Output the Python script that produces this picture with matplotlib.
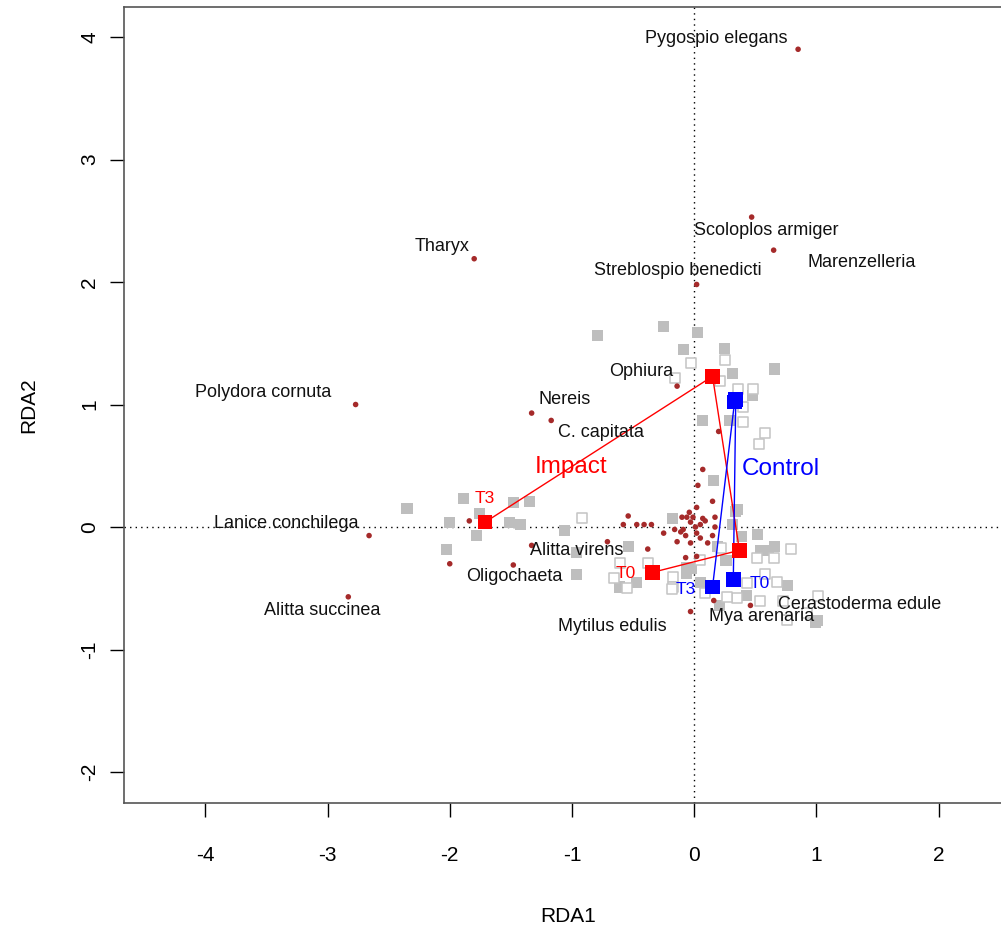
import numpy as np
import matplotlib
matplotlib.use("Agg")
import matplotlib.pyplot as plt

plt.rcParams['font.family'] = ['Liberation Sans', 'DejaVu Sans']
plt.rcParams['axes.unicode_minus'] = False

# ------------------------------------------------------------
# data (RDA site / species scores)
# ------------------------------------------------------------
# sites shown as filled grey squares
filled_x = [-0.25, -0.79, 0.03, -0.09, 0.25, 0.66, 0.31, 0.15, 0.48, 0.07, 0.29, 0.16, 0.35,
            -1.89, -2.35, -1.48, -1.35, -2.00, -1.76, -1.78, -1.51, -1.42, -2.03, -1.06, -0.96,
            -0.96, -0.61, -0.54, -0.47, -0.18, 0.39, 0.34, 0.31, 0.52, 0.54, 0.61, 0.66, 0.26,
            0.19, -0.06, -0.02, 0.21, 0.43, 0.76, 1.01, 0.99, -0.06, 0.05]
filled_y = [1.64, 1.56, 1.59, 1.45, 1.46, 1.29, 1.25, 1.24, 1.07, 0.87, 0.87, 0.38, 0.14,
            0.23, 0.15, 0.20, 0.21, 0.04, 0.11, -0.07, 0.04, 0.02, -0.18, -0.03, -0.21,
            -0.39, -0.49, -0.16, -0.45, 0.07, -0.08, 0.13, 0.02, -0.06, -0.19, -0.19, -0.16, -0.27,
            -0.16, -0.33, -0.34, -0.64, -0.56, -0.48, -0.76, -0.78, -0.38, -0.45]

# sites shown as open grey squares
open_x = [-0.03, 0.25, 0.21, -0.16, 0.36, 0.48, 0.40, 0.40, 0.58, 0.53, -0.92, 0.79, 0.65,
          0.51, 0.58, 0.68, -0.38, -0.61, -0.55, -0.17, -0.17, -0.18, 0.09, 0.35, 0.27, 0.54,
          0.73, 1.01, 0.76, 0.92, 0.43, 0.05, 0.22, -0.66]
open_y = [1.34, 1.36, 1.19, 1.22, 1.13, 1.13, 0.98, 0.86, 0.77, 0.68, 0.07, -0.18, -0.25,
          -0.25, -0.38, -0.45, -0.29, -0.29, -0.50, -0.41, -0.49, -0.51, -0.54, -0.58, -0.57, -0.60,
          -0.60, -0.56, -0.76, -0.70, -0.46, -0.27, -0.17, -0.42]

# unlabelled species scores
sp_x = [0.03, 0.15, 0.02, -0.04, -0.10, -0.54, -0.58, -0.47, -0.41, -0.35, -0.25, -0.16, -0.11,
        0.01, 0.02, 0.05, 0.09, 0.17, 0.11, 0.15, 0.17, -0.14, -0.03, -0.71, -0.38, -0.07, 0.02,
        -1.84, -2.00, 0.07, 0.20, -0.06, -0.01, 0.07, -0.07, -0.03, 0.05, -0.09]
sp_y = [0.34, 0.21, 0.16, 0.12, 0.08, 0.09, 0.02, 0.02, 0.02, 0.02, -0.05, -0.02, -0.04,
        0.00, -0.05, -0.09, 0.05, 0.08, -0.13, -0.07, 0.00, -0.12, -0.13, -0.12, -0.18, -0.25, -0.24,
        0.05, -0.30, 0.47, 0.78, 0.08, 0.08, 0.07, -0.07, 0.04, 0.02, -0.02]

# labelled species
names = ["Pygospio elegans", "Scoloplos armiger", "Marenzelleria", "Streblospio benedicti",
         "Tharyx", "Polydora cornuta", "Ophiura", "Nereis", "C. capitata", "Lanice conchilega",
         "Alitta succinea", "Alitta virens", "Oligochaeta", "Mytilus edulis", "Mya arenaria",
         "Cerastoderma edule"]
name_x = [0.85, 0.47, 0.65, 0.02, -1.80, -2.77, -0.14, -1.33, -1.17, -2.66, -2.83, -1.33,
          -1.48, -0.03, 0.16, 0.46]
name_y = [3.90, 2.53, 2.26, 1.98, 2.19, 1.00, 1.15, 0.93, 0.87, -0.07, -0.57, -0.15,
          -0.31, -0.69, -0.60, -0.64]

# group centroids over time (T0 ... T3)
impact_x = [-0.34, 0.37, 0.15, -1.71]
impact_y = [-0.37, -0.19, 1.23, 0.04]
control_x = [0.32, 0.34, 0.33, 0.15]
control_y = [-0.43, 1.04, 1.02, -0.49]

# label offsets (data units) for the species names
lab_dx = [-0.67, 0.12, 0.72, -0.15, -0.26, -0.76, -0.29, 0.27, 0.41, -0.68, -0.21, 0.37,
          0.01, -0.64, 0.39, 0.89]
lab_dy = [0.09, -0.11, -0.10, 0.11, 0.10, 0.10, 0.12, 0.11, -0.10, 0.10, -0.11, -0.04,
          -0.09, -0.12, -0.13, 0.01]

# ------------------------------------------------------------
fig = plt.figure(figsize=(10.01, 9.31), dpi=100)
ax = fig.add_axes([124 / 1001, 128 / 931, (1012 - 124) / 1001, (803 - 7) / 931])

grey = '#BEBEBE'
brown = '#A52A2A'

ax.axhline(0, color='black', linestyle=(0, (1, 3)), linewidth=1, zorder=1)
ax.axvline(0, color='black', linestyle=(0, (1, 3)), linewidth=1, zorder=1)

ax.scatter(filled_x, filled_y, marker='s', s=64, color=grey, edgecolors='none', zorder=2)
ax.scatter(open_x, open_y, marker='s', s=60, facecolors='white', edgecolors='#C4C4C4',
           linewidths=1.1, zorder=2)

ax.scatter(sp_x, sp_y, marker='o', s=16, color=brown, edgecolors='none', zorder=3)
ax.scatter(name_x, name_y, marker='o', s=16, color=brown, edgecolors='none', zorder=3)

for n, x, y, dx, dy in zip(names, name_x, name_y, lab_dx, lab_dy):
    ax.text(x + dx, y + dy, n, fontsize=13, ha='center', va='center', color='#111111', zorder=6)

ax.plot(impact_x, impact_y, color='red', linewidth=1, zorder=4)
ax.plot(control_x, control_y, color='blue', linewidth=1, zorder=4)
ax.scatter(impact_x, impact_y, marker='s', s=110, color='red', edgecolors='none', zorder=5)
ax.scatter(control_x, control_y, marker='s', s=110, color='blue', edgecolors='none', zorder=5)

ax.text(impact_x[3], impact_y[3] + 0.19, 'T3', color='red', fontsize=12.5, ha='center', va='center', zorder=6)
ax.text(impact_x[0] - 0.22, impact_y[0] - 0.01, 'T0', color='red', fontsize=12.5, ha='center', va='center', zorder=6)
ax.text(control_x[3] - 0.22, control_y[3] - 0.02, 'T3', color='blue', fontsize=12.5, ha='center', va='center', zorder=6)
ax.text(control_x[0] + 0.22, control_y[0] - 0.03, 'T0', color='blue', fontsize=12.5, ha='center', va='center', zorder=6)
ax.text(-1.01, 0.49, 'Impact', color='red', fontsize=17.5, ha='center', va='center', zorder=6)
ax.text(0.71, 0.47, 'Control', color='blue', fontsize=17.5, ha='center', va='center', zorder=6)

ax.set_xlim(-4.665, 2.6)
ax.set_ylim(-2.253, 4.245)
ax.set_xticks([-4, -3, -2, -1, 0, 1, 2])
ax.set_yticks([-2, -1, 0, 1, 2, 3, 4])
ax.tick_params(direction='out', length=10, width=1, labelsize=15, colors='black')
ax.tick_params(axis='x', pad=21)
ax.tick_params(axis='y', pad=8)
for lab in ax.get_yticklabels():
    lab.set_rotation(90)
    lab.set_va('center')
ax.set_xlabel('RDA1', fontsize=15, labelpad=30)
ax.set_ylabel('RDA2', fontsize=15, labelpad=30)

for side in ['left', 'bottom', 'top', 'right']:
    ax.spines[side].set_color('#555555')
    ax.spines[side].set_linewidth(1.2)

fig.savefig('out.png', dpi=100)
